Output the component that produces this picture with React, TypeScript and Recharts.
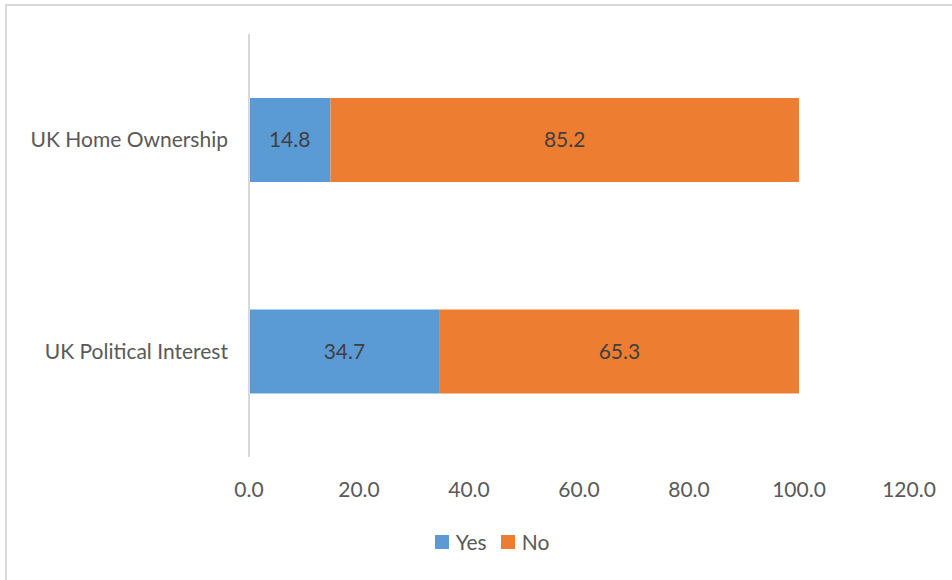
import { BarChart, Bar, XAxis, YAxis, LabelList } from "recharts";

const categories = ["UK Home Ownership", "UK Political Interest"];
const yesValues = [14.8, 34.7];
const noValues = [85.2, 65.3];
const xTicks = [0, 20, 40, 60, 80, 100, 120];

const COLORS = {
  yes: "#5B9BD5",
  no: "#ED7D31",
};

const FONT = "Lato, 'Open Sans', sans-serif";
const TEXT = "#595959";

const data = categories.map((name, i) => ({
  name,
  Yes: yesValues[i],
  No: noValues[i],
}));

// legend drawn beside the chart so it doesn't shrink the plot area
function LegendBox() {
  const items = [
    { label: "Yes", color: COLORS.yes },
    { label: "No", color: COLORS.no },
  ];
  return (
    <div
      style={{
        position: "absolute",
        top: 529,
        left: 16,
        width: 952,
        display: "flex",
        justifyContent: "center",
        gap: 14,
        fontFamily: FONT,
        fontSize: 21,
        color: TEXT,
      }}
    >
      {items.map((it) => (
        <div key={it.label} style={{ display: "flex", alignItems: "center" }}>
          <span style={{ width: 14, height: 14, background: it.color, marginRight: 7, display: "inline-block" }} />
          <span>{it.label}</span>
        </div>
      ))}
    </div>
  );
}

export default function App() {
  return (
    <div style={{ position: "fixed", left: 0, top: 0, width: 952, height: 580, overflow: "hidden", background: "#fff" }}>
      <div
        style={{
          position: "absolute",
          left: 5,
          top: 4,
          width: 1000,
          height: 700,
          border: "2px solid #d9d9d9",
          boxSizing: "border-box",
        }}
      />
      <div style={{ position: "absolute", left: 0, top: 0 }}>
        <BarChart
          width={952}
          height={580}
          data={data}
          layout="vertical"
          margin={{ top: 34, right: 43, bottom: 0, left: 0 }}
          barSize={84}
        >
          <XAxis
            type="number"
            domain={[0, 120]}
            ticks={xTicks}
            tickFormatter={(v: number) => v.toFixed(1)}
            axisLine={false}
            tickLine={false}
            tickSize={0}
            tickMargin={25}
            height={123}
            interval={0}
            tick={{ fill: TEXT, fontSize: 21, fontFamily: FONT }}
          />
          <YAxis
            type="category"
            dataKey="name"
            width={249}
            axisLine={{ stroke: "#d9d9d9", strokeWidth: 2 }}
            tickLine={false}
            tickSize={0}
            tickMargin={21}
            tick={{ fill: TEXT, fontSize: 21, fontFamily: FONT }}
          />
          <Bar dataKey="Yes" stackId="a" fill={COLORS.yes} isAnimationActive={false}>
            <LabelList
              dataKey="Yes"
              position="center"
              formatter={(v: number) => v.toFixed(1)}
              style={{ fill: "#404040", fontSize: 21, fontFamily: FONT }}
            />
          </Bar>
          <Bar dataKey="No" stackId="a" fill={COLORS.no} isAnimationActive={false}>
            <LabelList
              dataKey="No"
              position="center"
              formatter={(v: number) => v.toFixed(1)}
              style={{ fill: "#404040", fontSize: 21, fontFamily: FONT }}
            />
          </Bar>
        </BarChart>
      </div>
      <LegendBox />
    </div>
  );
}
